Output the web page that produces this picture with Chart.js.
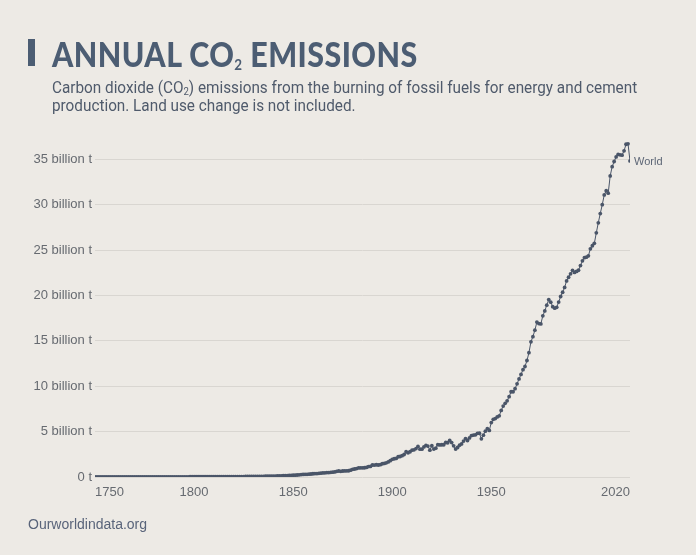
<!DOCTYPE html>
<html>
<head>
<meta charset="utf-8">
<script src="https://cdn.jsdelivr.net/npm/chart.js@4"></script>
<style>
  html, body { margin: 0; padding: 0; }
  body { width: 696px; height: 555px; background: #edeae5; position: relative; overflow: hidden; }
  #bar { position: absolute; left: 28px; top: 39px; width: 7px; height: 27px; background: #4c5d73; }
  #title { position: absolute; left: 52px; top: 33px; font-family: Lato, sans-serif; font-weight: 900;
           font-size: 34px; color: #4c5d73; white-space: nowrap; transform-origin: 0 0; letter-spacing: 0.5px; }
  #title sub { font-size: 15px; font-weight: 700; vertical-align: -3px; line-height: 0; }
  #sub { position: absolute; left: 52px; top: 79px; font-family: Roboto, sans-serif; font-size: 16px;
         line-height: 18px; color: #4f5a6b; white-space: nowrap; transform-origin: 0 0; }
  #sub sub { font-size: 10px; vertical-align: -2px; line-height: 0; }
  #foot { position: absolute; left: 28px; top: 516px; font-family: "Liberation Sans", Arial, sans-serif;
          font-size: 14px; color: #59647a; }
  #c { position: absolute; left: 0; top: 0; }
</style>
</head>
<body>
<canvas id="c" width="696" height="555"></canvas>
<div id="bar"></div>
<div id="title">ANNUAL CO<sub>2</sub> EMISSIONS</div>
<div id="sub">Carbon dioxide (CO<sub>2</sub>) emissions from the burning of fossil fuels for energy and cement<br>production. Land use change is not included.</div>
<div id="foot">Ourworldindata.org</div>
<script>
// world co2 emissions, billion tonnes, one value per year
let startYear = 1750;
let co2_1750_1799 = [
  0.0094,0.0094,0.0094,0.0094,0.0094,0.0095,0.0095,0.0095,0.0095,0.0096,
  0.0103,0.0103,0.0104,0.0104,0.0105,0.0106,0.0107,0.0108,0.0109,0.0110,
  0.0115,0.0116,0.0118,0.0120,0.0122,0.0124,0.0126,0.0128,0.0130,0.0132,
  0.0136,0.0140,0.0143,0.0147,0.0150,0.0153,0.0156,0.0159,0.0162,0.0165,
  0.0167,0.0175,0.0183,0.0190,0.0200,0.0210,0.0220,0.0235,0.0250,0.0265];
let co2_1800_1849 = [
  0.0280,0.0285,0.0290,0.0295,0.0300,0.0305,0.0310,0.0315,0.0320,0.0330,
  0.0340,0.0345,0.0350,0.0355,0.0360,0.0370,0.0375,0.0380,0.0390,0.0400,
  0.0430,0.0445,0.0460,0.0480,0.0500,0.0520,0.0540,0.0560,0.0580,0.0600,
  0.0640,0.0660,0.0690,0.0720,0.0750,0.0780,0.0810,0.0840,0.0870,0.0900,
  0.0980,0.1050,0.1130,0.1210,0.1300,0.1400,0.1500,0.1600,0.1700,0.1800];
let co2_1850_1899 = [
  0.197,0.205,0.22,0.24,0.27,0.28,0.30,0.30,0.31,0.33,
  0.36,0.38,0.38,0.40,0.42,0.45,0.46,0.49,0.49,0.52,
  0.53,0.56,0.62,0.66,0.62,0.66,0.67,0.68,0.69,0.75,
  0.85,0.88,0.93,1.00,1.01,1.01,1.02,1.06,1.15,1.16,
  1.32,1.31,1.35,1.32,1.36,1.46,1.50,1.56,1.66,1.80];
let co2_1900_1949 = [
  1.95,2.01,2.05,2.23,2.26,2.35,2.48,2.78,2.67,2.78,
  2.96,2.99,3.13,3.38,3.06,3.06,3.31,3.48,3.41,2.96,
  3.44,3.08,3.18,3.56,3.53,3.55,3.55,3.80,3.77,4.03,
  3.79,3.43,3.08,3.25,3.51,3.64,3.96,4.23,4.02,4.30,
  4.56,4.62,4.64,4.81,4.82,4.21,4.61,5.05,5.32,5.13];
let co2_1950_1999 = [
  6.00,6.35,6.44,6.62,6.74,7.33,7.81,8.11,8.39,8.85,
  9.39,9.39,9.73,10.26,10.80,11.30,11.82,12.17,12.83,13.69,
  14.89,15.46,16.17,17.06,16.90,16.86,17.75,18.29,18.93,19.54,
  19.26,18.76,18.59,18.69,19.27,19.88,20.35,20.88,21.60,22.00,
  22.38,22.76,22.53,22.64,22.77,23.29,23.81,24.16,24.21,24.36];
let co2_2000_2020 = [
  25.13,25.47,25.74,26.90,28.00,29.02,29.99,31.07,31.53,31.26,
  33.16,34.18,34.75,35.26,35.53,35.49,35.45,35.93,36.65,36.70,
  34.81];
let yearTicks = [1750, 1800, 1850, 1900, 1950, 2020];
let valueTicks = [0, 5, 10, 15, 20, 25, 30, 35];
let seriesName = "World";

let co2 = co2_1750_1799.concat(co2_1800_1849, co2_1850_1899, co2_1900_1949, co2_1950_1999, co2_2000_2020);
let points = co2.map((v, i) => ({x: startYear + i, y: v}));

// fit title / subtitle widths to the reference
let t = document.getElementById("title");
t.style.transform = "scaleX(" + (366 / t.offsetWidth) + ")";
let s = document.getElementById("sub");
s.style.transform = "scaleX(" + (585 / s.offsetWidth) + ")";

let lineColor = "#4a5568";

// label at the end of the line
let endLabel = {
  id: "endLabel",
  afterDatasetsDraw(chart) {
    let meta = chart.getDatasetMeta(0);
    let last = meta.data[meta.data.length - 1];
    let ctx = chart.ctx;
    ctx.save();
    ctx.font = "11px 'Liberation Sans', Arial, sans-serif";
    ctx.fillStyle = "#5d6676";
    ctx.textBaseline = "middle";
    ctx.fillText(seriesName, last.x + 4, last.y + 1);
    ctx.restore();
  }
};

new Chart("c", {
  type: "line",
  data: {
    datasets: [{
      label: seriesName,
      data: points,
      borderColor: lineColor,
      backgroundColor: lineColor,
      borderWidth: 1,
      pointRadius: 1.9,
      pointBorderWidth: 0,
      tension: 0
    }]
  },
  options: {
    responsive: false,
    animation: false,
    layout: { padding: { top: 132, right: 66, bottom: 48, left: 0 } },
    plugins: { legend: { display: false }, tooltip: { enabled: false } },
    scales: {
      x: {
        type: "linear",
        min: 1750,
        max: 2020,
        afterBuildTicks: ax => { ax.ticks = yearTicks.map(v => ({value: v})); },
        afterFit: ax => { ax.height = 30; },
        grid: { display: false },
        border: { display: false },
        ticks: {
          align: "inner",
          padding: 0,
          color: "#666a70",
          font: { family: "'Liberation Sans', Arial, sans-serif", size: 13 },
          callback: v => String(v),
          maxRotation: 0
        }
      },
      y: {
        min: 0,
        max: 38,
        afterBuildTicks: ax => { ax.ticks = valueTicks.map(v => ({value: v})); },
        afterFit: ax => { ax.width = 95; },
        grid: { color: "#d9d6d1", drawTicks: false, lineWidth: 1 },
        border: { display: false },
        ticks: {
          padding: 3,
          color: "#666a70",
          font: { family: "'Liberation Sans', Arial, sans-serif", size: 13 },
          callback: v => v === 0 ? "0 t" : v + " billion t"
        }
      }
    }
  },
  plugins: [endLabel]
});
</script>
</body>
</html>
